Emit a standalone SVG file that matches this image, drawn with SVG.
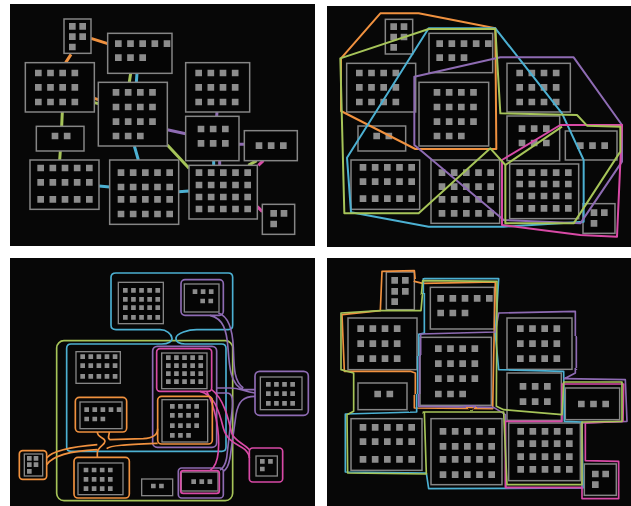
<svg xmlns="http://www.w3.org/2000/svg" width="631" height="506" viewBox="0 0 631 506">
<defs>
<filter id="sketch" x="-5%" y="-5%" width="110%" height="110%">
<feTurbulence type="fractalNoise" baseFrequency="0.006" numOctaves="1" seed="5" result="t"/>
<feDisplacementMap in="SourceGraphic" in2="t" scale="7" xChannelSelector="R" yChannelSelector="G"/>
</filter>
</defs>
<style>
.bg{fill:#070707}
.n{fill:#050505;stroke:#858585;stroke-width:4.5}
.n3{fill:#050505;stroke:#858585;stroke-width:4}
.s{fill:none;stroke:#8c8c8c;stroke-width:20;stroke-dasharray:20 16.5}
.s2{stroke-dasharray:20 11}
.s4{stroke-dasharray:20 12}
.s3{fill:none;stroke:#8c8c8c;stroke-width:14;stroke-dasharray:14 10.3}
.s36{stroke-dasharray:14 6}
.e{fill:none;stroke-width:9}
.h{fill:none;stroke-width:6;stroke-linejoin:round}
.b{fill:none;stroke-width:5;stroke-linejoin:round}
.o{stroke:#f0913f}.g{stroke:#a6c459}.c{stroke:#4cb0d2}.p{stroke:#8e6bb3}.k{stroke:#d84aa6}
</style>
<rect width="631" height="506" fill="#ffffff"/>
<rect class="bg" x="10" y="4" width="305" height="242"/>
<rect class="bg" x="327" y="6" width="304" height="241"/>
<rect class="bg" x="10" y="258" width="305" height="248"/>
<rect class="bg" x="327" y="258" width="304" height="248"/>

<!-- Panel 1 -->
<g transform="translate(10,5) scale(0.33333)">
<g id="p1-edges">
<path class="e o" d="M243,100L293,116M183,148L167,173M253,280L265,284"/>
<path class="e g" d="M362,205L358,232M253,293L265,296M157,321L155,364M151,438L149,465M472,420L537,490M740,467L715,481"/>
<path class="e c" d="M381,205L379,232M373,423L385,465M267,543L299,546M506,560L537,558M611,467L611,481"/>
<path class="e p" d="M472,374L527,386M621,321L620,334M687,418L703,418M629,467L629,481"/>
<path class="e k" d="M760,467L745,481M742,605L757,620"/>
</g>
<g id="p1-A"><rect class="n" x="162" y="42" width="81" height="103"/><path class="s s2" d="M177 64h51M177 95h51M177 126h20"/></g>
<g id="p1-B"><rect class="n" x="293" y="85" width="193" height="120"/><path class="s" d="M315 116h166M315 158h93"/></g>
<g id="p1-C"><rect class="n" x="46" y="173" width="207" height="148"/><path class="s" d="M75 204h129.5M75 247h129.5M75 291h129.5"/></g>
<g id="p1-D"><rect class="n" x="265" y="232" width="207" height="191"/><path class="s" d="M308 262h129.5M308 306h129.5M308 350h129.5M308 393h93"/></g>
<g id="p1-E"><rect class="n" x="527" y="173" width="192" height="148"/><path class="s" d="M556 204h129.5M556 247h129.5M556 291h129.5"/></g>
<g id="p1-F"><rect class="n" x="79" y="364" width="143" height="74"/><path class="s" d="M125 393h56.5"/></g>
<g id="p1-G"><rect class="n" x="527" y="334" width="160" height="133"/><path class="s" d="M563 372h93M563 415h93"/></g>
<g id="p1-H"><rect class="n" x="703" y="377" width="159" height="90"/><path class="s" d="M737 422h93"/></g>
<g id="p1-I"><rect class="n" x="60" y="465" width="207" height="148"/><path class="s" d="M82 489h166M82 532h166M82 583h166"/></g>
<g id="p1-J"><rect class="n" x="299" y="465" width="207" height="193"/><path class="s" d="M323 503h166M323 546h166M323 583h166M323 627h166"/></g>
<g id="p1-K"><rect class="n" x="537" y="481" width="205" height="161"/><path class="s" d="M557 503h166M557 540h166M557 576h166M557 612h166"/></g>
<g id="p1-L"><rect class="n" x="757" y="598" width="97" height="90"/><path class="s s2" d="M781 625h51M781 657h20"/></g>
</g>

<!-- Panel 2 -->
<g transform="translate(327,5) scale(0.33333)">
<g id="p2-A"><rect class="n" x="175" y="43" width="82" height="104"/><path class="s s2" d="M190 65h51M190 96h51M190 127h20"/></g>
<g id="p2-B"><rect class="n" x="306" y="85" width="191" height="118"/><path class="s" d="M328 116h166M328 158h93"/></g>
<g id="p2-C"><rect class="n" x="59" y="175" width="207" height="146"/><path class="s" d="M87 204h129.5M87 247h129.5M87 291h129.5"/></g>
<g id="p2-D"><rect class="n" x="276" y="232" width="209" height="191"/><path class="s" d="M320 262h129.5M320 306h129.5M320 350h129.5M320 393h93"/></g>
<g id="p2-E"><rect class="n" x="540" y="175" width="190" height="146"/><path class="s" d="M568 204h129.5M568 247h129.5M568 291h129.5"/></g>
<g id="p2-F"><rect class="n" x="93" y="363" width="143" height="75"/><path class="s" d="M139 393h56.5"/></g>
<g id="p2-G"><rect class="n" x="540" y="333" width="158" height="134"/><path class="s" d="M575 371h93M575 414h93"/></g>
<g id="p2-H"><rect class="n" x="715" y="378" width="155" height="87"/><path class="s" d="M750 422h93"/></g>
<g id="p2-I"><rect class="n" x="72" y="465" width="206" height="148"/><path class="s" d="M98 487h166M98 530h166M98 581h166"/></g>
<g id="p2-J"><rect class="n" x="312" y="465" width="206" height="190"/><path class="s" d="M335 503h166M335 545h166M335 583h166M335 625h166"/></g>
<g id="p2-K"><rect class="n" x="548" y="477" width="207" height="164"/><path class="s" d="M568 503h166M568 537h166M568 573h166M568 610h166"/></g>
<g id="p2-L"><rect class="n" x="768" y="596" width="96" height="89"/><path class="s s2" d="M791 623h51M791 655h20"/></g>
<g id="p2-hulls">
<path class="h o" d="M42,160L160,25L275,25L505,70L508,432L265,432L42,318Z"/>
<path class="h c" d="M305,70L505,70L705,325L770,465L770,650L530,665L305,665L72,622L60,458Z"/>
<path class="h p" d="M262,215L520,157L740,157L885,360L885,470L760,655L530,645L262,420Z"/>
<path class="h k" d="M525,465L700,360L885,360L870,695L760,690L525,660Z"/>
<path class="h g" d="M40,160L305,72L505,72L520,325L750,330L780,362L880,365L880,440L740,655L535,655L535,480L490,430L275,625L52,625Z"/>
<path class="h g" d="M535,480L705,365"/>
</g>
</g>

<!-- Panel 3 -->
<g transform="translate(10,258) scale(0.33333)">
<g id="p3-a"><rect class="n3" x="325" y="73" width="135" height="124"/><path class="s3" d="M339 97h111.2M339 124h111.2M339 149h111.2M339 178h111.2"/></g>
<g id="p3-b"><rect class="n3" x="523" y="78" width="104" height="84"/><path class="s3" d="M548 101h62.6M571 129h38.3"/></g>
<g id="p3-c"><rect class="n3" x="198" y="281" width="133" height="95"/><path class="s3" d="M211 296h111.2M211 323h111.2M211 355h111.2"/></g>
<g id="p3-d"><rect class="n3" x="455" y="285" width="136" height="107"/><path class="s3" d="M468 299h111.2M468 323h111.2M468 347h111.2M468 371h111.2"/></g>
<g id="p3-e"><rect class="n3" x="751" y="357" width="125" height="98"/><path class="s3" d="M768 379h86.9M768 407h86.9M768 436h86.9"/></g>
<g id="p3-f"><rect class="n3" x="210" y="432" width="126" height="80"/><path class="s3" d="M223 455h111.2M223 483h62.6"/></g>
<g id="p3-g"><rect class="n3" x="456" y="425" width="137" height="127"/><path class="s3" d="M480 445h86.9M480 472h86.9M480 503h86.9M480 532h62.6"/></g>
<g id="p3-h"><rect class="n3" x="43" y="588" width="55" height="66"/><path class="s3 s36" d="M51 601h34M51 620h34M51 640h14"/></g>
<g id="p3-i"><rect class="n3" x="204" y="615" width="135" height="95"/><path class="s3" d="M221 636h86.9M221 664h86.9M221 692h86.9"/></g>
<g id="p3-j"><rect class="n3" x="395" y="663" width="93" height="50"/><path class="s3" d="M423 684h40"/></g>
<g id="p3-k"><rect class="n3" x="514" y="642" width="110" height="57"/><path class="s3" d="M544 671h62.6"/></g>
<g id="p3-l"><rect class="n3" x="738" y="594" width="64" height="60"/><path class="s3" d="M750 610h38.3M750 633h14"/></g>
<g id="p3-bubbles">
<rect class="b g" x="140" y="248" width="528" height="480" rx="22"/>
<path class="b c" d="M318,45L655,45Q668,45 668,58L668,202Q668,215 655,215L560,215C535,215 500,226 498,240C496,252 510,258 525,258L635,258Q648,258 648,271L648,567Q648,580 635,580L183,580Q170,580 170,567L170,271Q170,258 183,258L455,258C475,258 488,250 486,240C484,228 470,215 450,215L318,215Q303,215 303,202L303,58Q303,45 318,45Z"/>
<rect class="b p" x="513" y="65" width="127" height="107" rx="12"/>
<rect class="b p" x="735" y="340" width="160" height="132" rx="14"/>
<rect class="b p" x="428" y="265" width="192" height="303" rx="14"/>
<rect class="b p" x="505" y="630" width="135" height="90" rx="10"/>
<path class="b p" d="M600,172C640,182 650,215 654,270C658,330 662,380 700,395L735,395M625,165C655,175 668,215 670,270C672,330 672,370 700,390M620,390L660,390C690,390 700,400 735,405M735,415C700,415 685,430 678,470L660,600C655,625 650,632 640,640M620,405L650,405C668,405 670,425 666,460L650,600C646,620 642,630 630,636"/>
<rect class="b k" x="440" y="272" width="165" height="128" rx="10"/>
<rect class="b k" x="718" y="570" width="100" height="102" rx="10"/>
<rect class="b k" x="512" y="638" width="116" height="68" rx="8"/>
<path class="b k" d="M570,400C610,410 625,450 640,510C652,555 690,560 705,575C715,585 718,595 718,600M605,395C640,420 655,480 665,525C672,548 700,555 718,575M590,400C615,445 630,520 625,580C622,615 612,630 600,638"/>
<rect class="b o" x="196" y="418" width="154" height="104" rx="12"/>
<rect class="b o" x="443" y="415" width="164" height="143" rx="12"/>
<rect class="b o" x="192" y="598" width="166" height="122" rx="12"/>
<rect class="b o" x="28" y="578" width="82" height="86" rx="10"/>
<path class="b o" d="M262,522C262,540 285,538 285,550C285,562 262,565 262,585L262,598M298,522C298,535 290,540 300,545L400,542C430,540 443,530 443,512M290,572C300,562 350,560 443,556M262,560C200,565 130,575 110,600M262,575C200,578 130,590 110,620"/>
</g>
</g>

<!-- Panel 4 -->
<g transform="translate(327,258) scale(0.33333)">
<g id="p4-A"><rect class="n" x="178" y="42" width="84" height="113"/><path class="s s4" d="M193 67h52M193 100h52M193 131h20"/></g>
<g id="p4-B"><rect class="n" x="310" y="88" width="192" height="125"/><path class="s" d="M331 121h166M331 165h93"/></g>
<g id="p4-C"><rect class="n" x="63" y="180" width="207" height="155"/><path class="s" d="M91 212h129.5M91 257h129.5M91 302h129.5"/></g>
<g id="p4-D"><rect class="n" x="279" y="238" width="214" height="204"/><path class="s" d="M324 272h129.5M324 317h129.5M324 362h129.5M324 408h93"/></g>
<g id="p4-E"><rect class="n" x="540" y="180" width="195" height="154"/><path class="s" d="M570 212h129.5M570 257h129.5M570 302h129.5"/></g>
<g id="p4-F"><rect class="n" x="93" y="375" width="147" height="80"/><path class="s" d="M142 408h56.5"/></g>
<g id="p4-G"><rect class="n" x="540" y="345" width="163" height="142"/><path class="s" d="M578 385h93M578 431h93"/></g>
<g id="p4-H"><rect class="n" x="715" y="390" width="163" height="95"/><path class="s" d="M753 438h93"/></g>
<g id="p4-I"><rect class="n" x="72" y="482" width="213" height="155"/><path class="s" d="M98 508h166M98 551h166M98 604h166"/></g>
<g id="p4-J"><rect class="n" x="312" y="482" width="213" height="198"/><path class="s" d="M338 520h166M338 565h166M338 604h166M338 650h166"/></g>
<g id="p4-K"><rect class="n" x="545" y="495" width="215" height="173"/><path class="s" d="M571 520h166M571 557h166M571 596h166M571 634h166"/></g>
<g id="p4-L"><rect class="n" x="772" y="618" width="96" height="94"/><path class="s s2" d="M795 648h51M795 680h20"/></g>
<g id="p4-outlines" filter="url(#sketch)">
<path class="b o" d="M165,40L262,38L265,70L290,76L505,72L500,300L497,452L265,450L265,345L250,340L52,340L45,170L160,158Z"/>
<path class="b c" d="M292,62L515,62L505,228L515,335L710,340L712,490L765,492L768,690L305,692L298,645L55,642L55,468L272,462L272,230L292,225Z"/>
<path class="b p" d="M278,228L505,222L515,165L745,160L745,345L712,362L895,365L900,490L765,495L765,690L537,690L535,470L500,448L278,445Z"/>
<path class="b k" d="M705,378L890,378L888,490L775,495L775,608L875,610L875,722L765,722L765,688L535,688L535,490L705,490Z"/>
<path class="b g" d="M42,165L42,335L80,345L80,460L60,470L62,645L298,648L292,462L530,462L540,680L765,680L765,492L885,490L885,372L710,372L705,470L530,455L508,445L510,70L290,68L282,158L160,158Z"/>
</g>
</g>
</svg>
